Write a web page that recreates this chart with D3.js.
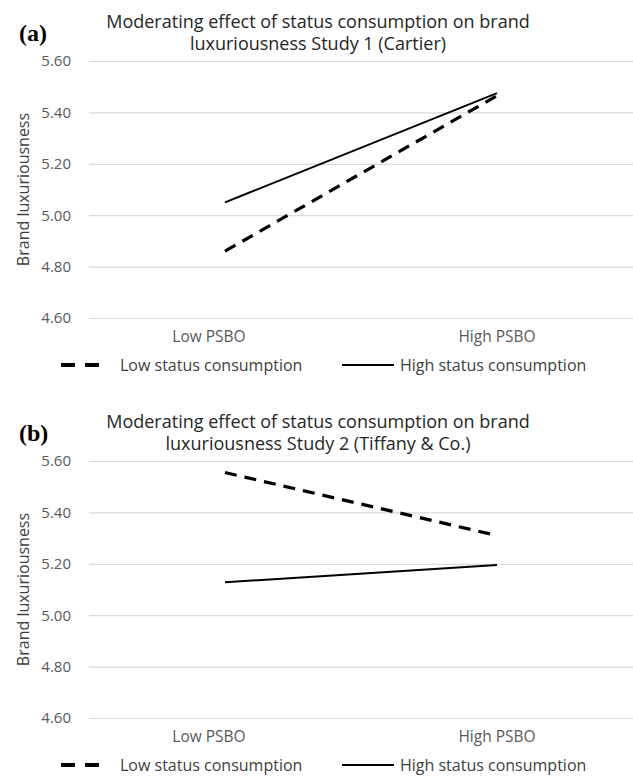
<!DOCTYPE html>
<html>
<head>
<meta charset="utf-8">
<script src="https://cdn.jsdelivr.net/npm/d3@7"></script>
<style>
  body { margin: 0; background: #fff; }
  text { font-family: "Open Sans", sans-serif; }
</style>
</head>
<body>
<div id="chart"></div>
<script>
// data
let categories = ["Low PSBO", "High PSBO"];
let seriesNames = ["Low status consumption", "High status consumption"];
let yTicks = [4.6, 4.8, 5.0, 5.2, 5.4, 5.6];

let study1Low = [4.86, 5.465];
let study1High = [5.05, 5.475];
let study2Low = [5.555, 5.31];
let study2High = [5.128, 5.195];

let panelLetters = ["(a)", "(b)"];
let panelTitles = [
    ["Moderating effect of status consumption on brand", "luxuriousness Study 1 (Cartier)"],
    ["Moderating effect of status consumption on brand", "luxuriousness Study 2 (Tiffany & Co.)"]
];
let panelData = [[study1Low, study1High], [study2Low, study2High]];

let width = 633;
let height = 776;
let panelTop = [61, 461];   // y of the 5.60 gridline
let plotH = 257;
let left = 89;

let svg = d3.select('#chart').append('svg')
    .attr('width', width).attr('height', height);

let xScale = d3.scaleBand()
    .domain(categories)
    .range([left, width]);

// style of each series: dashed thick, solid
let dashes = ["12,8", null];
let strokeW = [3.2, 2];
let labelNudge = [-16, 0];   // category labels sit a bit off the category centre

panelData.forEach((series, p) => {
    let top = panelTop[p];
    let yScale = d3.scaleLinear()
        .domain([4.6, 5.6])
        .range([top + plotH, top]);

    let g = svg.append('g');

    // gridlines + tick labels
    let yAxis = d3.axisLeft(yScale)
        .tickValues(yTicks)
        .tickFormat(d3.format('.2f'))
        .tickSize(-(width - left))
        .tickPadding(18);
    let ya = g.append('g')
        .attr('transform', 'translate(' + left + ',0)')
        .call(yAxis);
    ya.select('.domain').remove();
    ya.selectAll('.tick line').attr('stroke', '#d9d9d9').attr('stroke-width', 1.2);
    ya.selectAll('.tick text')
        .attr('fill', '#595959')
        .style('font-size', '15px')
        .style('font-family', '"Open Sans", sans-serif');

    // category labels
    let xAxis = d3.axisBottom(xScale).tickSize(0).tickPadding(0);
    let xa = g.append('g')
        .attr('transform', 'translate(0,' + (top + plotH + 13) + ')')
        .call(xAxis);
    xa.select('.domain').remove();
    xa.selectAll('.tick text')
        .attr('fill', '#595959')
        .attr('dx', (d, i) => labelNudge[i])
        .style('font-size', '15.5px')
        .style('font-family', '"Open Sans", sans-serif');

    // lines
    let line = d3.line()
        .x((d, i) => xScale(categories[i]) + xScale.bandwidth() / 2)
        .y(d => yScale(d));
    series.forEach((vals, s) => {
        g.append('path')
            .datum(vals)
            .attr('d', line)
            .attr('fill', 'none')
            .attr('stroke', '#000')
            .attr('stroke-width', strokeW[s])
            .attr('stroke-dasharray', dashes[s]);
    });

    // title
    panelTitles[p].forEach((t, i) => {
        g.append('text')
            .attr('x', 318)
            .attr('y', top - 33 + i * 22)
            .attr('text-anchor', 'middle')
            .attr('fill', '#262626')
            .style('font-size', '18px')
            .text(t);
    });

    // panel letter
    g.append('text')
        .attr('x', 19)
        .attr('y', top - 20)
        .attr('fill', '#000')
        .style('font-family', '"Liberation Serif", "DejaVu Serif", serif')
        .style('font-weight', 'bold')
        .style('font-size', '24px')
        .text(panelLetters[p]);

    // y axis title
    g.append('text')
        .attr('transform', 'translate(29,' + (top + plotH / 2) + ') rotate(-90)')
        .attr('text-anchor', 'middle')
        .attr('fill', '#404040')
        .style('font-size', '16px')
        .text('Brand luxuriousness');

    // legend
    let ly = top + plotH + 47;
    let legX = [61, 342];
    let legLen = [38, 52];
    seriesNames.forEach((name, s) => {
        g.append('line')
            .attr('x1', legX[s]).attr('x2', legX[s] + legLen[s])
            .attr('y1', ly).attr('y2', ly)
            .attr('stroke', '#000')
            .attr('stroke-width', s === 0 ? 4 : 2)
            .attr('stroke-dasharray', s === 0 ? '14,10' : null);
        g.append('text')
            .attr('x', legX[s] + legLen[s] + (s === 0 ? 21 : 6))
            .attr('y', ly)
            .attr('dy', '0.35em')
            .attr('fill', '#404040')
            .style('font-size', '16px')
            .text(name);
    });
});
</script>
</body>
</html>
